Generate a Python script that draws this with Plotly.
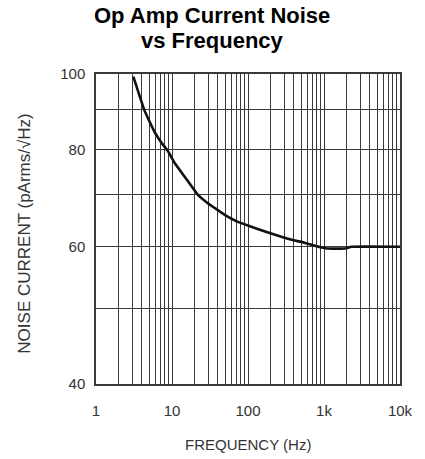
import plotly.graph_objects as go

# Data
freq_hz = [3.1, 4.3, 4.95, 6.0, 7.35, 8.7, 10.9, 14.7, 21.8, 29.3, 39, 50, 71, 100, 157,
           345, 565, 800, 1100, 1900, 2300, 10000]
noise_pa = [99.2, 90, 87.3, 84, 81.5, 79.8, 76.8, 73.8, 70, 68.3, 67, 65.9, 64.7, 63.9, 62.9,
            61.4, 60.7, 60.1, 59.7, 59.7, 60, 60]

x_tick_vals = [1, 10, 100, 1000, 10000]
x_tick_text = ["1", "10", "100", "1k", "10k"]
x_minor_vals = [m * d for d in [1, 10, 100, 1000] for m in range(2, 10)]
y_tick_vals = [40, 60, 80, 100]
y_minor_vals = [50, 70, 90]

GRID = "#3a3a3a"
TXT = "#333333"
FONT = "Liberation Sans, Arial, sans-serif"

fig = go.Figure()
fig.add_trace(go.Scatter(
    x=freq_hz, y=noise_pa, mode="lines",
    line=dict(color="#111111", width=2.6, shape="spline", smoothing=0.3),
    showlegend=False, hoverinfo="skip",
))

fig.update_xaxes(
    type="log", range=[0, 4],
    tickvals=x_tick_vals, ticktext=x_tick_text,
    showgrid=True, gridcolor=GRID, gridwidth=1,
    minor=dict(tickvals=x_minor_vals, showgrid=True, gridcolor=GRID, gridwidth=1, ticks=""),
    ticks="", ticklabelstandoff=12,
    showline=True, mirror=True, linecolor=GRID, linewidth=1.5,
    tickfont=dict(family=FONT, size=15, color=TXT),
    zeroline=False,
)
fig.update_yaxes(
    type="log", range=[1.60206, 2],
    tickvals=y_tick_vals, ticktext=[str(v) for v in y_tick_vals],
    showgrid=True, gridcolor=GRID, gridwidth=1,
    minor=dict(tickvals=y_minor_vals, showgrid=True, gridcolor=GRID, gridwidth=1, ticks=""),
    ticks="", ticklabelstandoff=6,
    showline=True, mirror=True, linecolor=GRID, linewidth=1.5,
    tickfont=dict(family=FONT, size=15, color=TXT),
    zeroline=False,
)

annotations = [
    dict(text="<b>Op Amp Current Noise</b>", x=0.383, y=(384 - 15.5) / 310, xref="paper", yref="paper",
         showarrow=False, xanchor="center", yanchor="middle",
         font=dict(family=FONT, size=22, color="#000000")),
    dict(text="<b>vs Frequency</b>", x=0.383, y=(384 - 40) / 310, xref="paper", yref="paper",
         showarrow=False, xanchor="center", yanchor="middle",
         font=dict(family=FONT, size=22, color="#000000")),
    dict(text="FREQUENCY (Hz)", x=(251 - 96) / 311, y=(384 - 444) / 310, xref="paper", yref="paper",
         showarrow=False, xanchor="center", yanchor="middle",
         font=dict(family=FONT, size=15, color=TXT)),
    dict(text="NOISE CURRENT (pArms/√Hz)", x=(22 - 96) / 311, y=(384 - 234) / 310,
         xref="paper", yref="paper", textangle=-90,
         showarrow=False, xanchor="center", yanchor="middle",
         font=dict(family=FONT, size=17, color=TXT)),
]

fig.update_layout(
    width=425, height=459,
    margin=dict(l=96, r=18, t=74, b=75),
    paper_bgcolor="white", plot_bgcolor="white",
    annotations=annotations,
)

# remove the page's default 8px body margin so the figure fills the window exactly
fig.write_html("out.html", config={"displayModeBar": False},
               post_script="document.body.style.margin='0';")
